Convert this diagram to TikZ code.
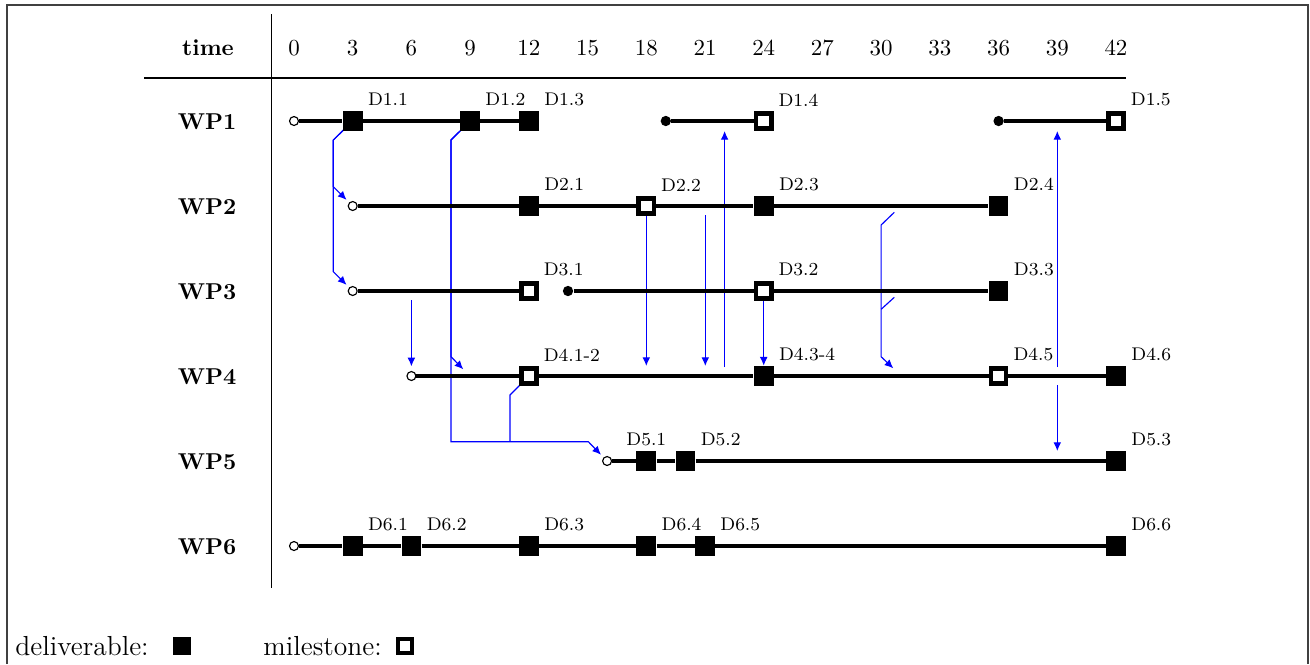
\documentclass[tikz,border=0pt]{standalone}
\usetikzlibrary{arrows.meta}
\pgfdeclarelayer{bg}
\pgfsetlayers{bg,main}
\begin{document}
\begin{tikzpicture}[x=0.4361pt,y=-0.4361pt,
  deliv/.style={fill=black,inner sep=0pt,minimum size=8.6pt},
  mile/.style={draw=black,fill=white,line width=2pt,inner sep=0pt,minimum size=6.6pt},
  ocirc/.style={circle,draw=black,fill=white,line width=0.5pt,inner sep=0pt,minimum size=3.9pt},
  fcirc/.style={circle,fill=black,inner sep=0pt,minimum size=4.5pt},
  wpline/.style={line width=1.6pt},
  lab/.style={anchor=south west,inner sep=2pt,font=\footnotesize},
  dep/.style={blue,line width=0.5pt,-{Latex[length=3.8pt,width=3.4pt]}},
  deplink/.style={blue,line width=0.5pt},
  wplab/.style={font=\bfseries,anchor=base},
  tick/.style={anchor=base},
  frame/.style={black!75,line width=0.6pt},
  legtext/.style={anchor=base west,inner sep=0pt,font=\fontsize{12}{14}\selectfont},
]
\useasboundingbox (0,0) rectangle (1310,664);
% frame
\coordinate (fa) at (7,664); \coordinate (fb) at (7,5);
\coordinate (fc) at (1308,5); \coordinate (fd) at (1308,664);
\draw[frame] (fa) -- (fb) -- (fc) -- (fd);
% header
\node[wplab] (time) at (208,55) {time};
\foreach \t in {0,3,...,42} {
  \node[tick] (n\t) at ({294+19.571*\t},55) {\t};
}
\coordinate (ha) at (144,78); \coordinate (hb) at (1126,78);
\draw[line width=0.5pt] (ha) -- (hb);
\coordinate (va) at (271.7,14); \coordinate (vb) at (271.7,588);
\draw[line width=0.5pt] (va) -- (vb);
% WP labels
\node[wplab] (wp1) at (207,129) {WP1};
\node[wplab] (wp2) at (207,214) {WP2};
\node[wplab] (wp3) at (207,299) {WP3};
\node[wplab] (wp4) at (207,384) {WP4};
\node[wplab] (wp5) at (207,469) {WP5};
\node[wplab] (wp6) at (207,554) {WP6};
% WP1
\node[ocirc] (o1) at (294,121) {};
\node[deliv] (d11) at (352.7,121) {};
\node[deliv] (d12) at (470.1,121) {};
\node[deliv] (d13) at (528.9,121) {};
\node[fcirc] (f1a) at (665.8,121) {};
\node[mile] (m14) at (763.7,121) {};
\node[fcirc] (f1b) at (998.6,121) {};
\node[mile] (m15) at (1116,121) {};
\draw[wpline] (o1) -- (d11) -- (d12) -- (d13);
\draw[wpline] (f1a) -- (m14);
\draw[wpline] (f1b) -- (m15);
% WP2
\node[ocirc] (o2) at (352.7,206) {};
\node[deliv] (d21) at (528.9,206) {};
\node[mile] (m22) at (646.3,206) {};
\node[deliv] (d23) at (763.7,206) {};
\node[deliv] (d24) at (998.6,206) {};
\draw[wpline] (o2) -- (d21) -- (m22) -- (d23) -- (d24);
% WP3
\node[ocirc] (o3) at (352.7,291) {};
\node[mile] (m31) at (528.9,291) {};
\node[fcirc] (f3) at (568.0,291) {};
\node[mile] (m32) at (763.7,291) {};
\node[deliv] (d33) at (998.6,291) {};
\draw[wpline] (o3) -- (m31);
\draw[wpline] (f3) -- (m32) -- (d33);
% WP4
\node[ocirc] (o4) at (411.4,376) {};
\node[mile] (m412) at (528.9,376) {};
\node[deliv] (d434) at (763.7,376) {};
\node[mile] (m45) at (998.6,376) {};
\node[deliv] (d46) at (1116,376) {};
\draw[wpline] (o4) -- (m412) -- (d434) -- (m45) -- (d46);
% WP5
\node[ocirc] (o5) at (607.1,461) {};
\node[deliv] (d51) at (646.3,461) {};
\node[deliv] (d52) at (685.4,461) {};
\node[deliv] (d53) at (1116,461) {};
\draw[wpline] (o5) -- (d51) -- (d52) -- (d53);
% WP6
\node[ocirc] (o6) at (294,546) {};
\node[deliv] (d61) at (352.7,546) {};
\node[deliv] (d62) at (411.4,546) {};
\node[deliv] (d63) at (528.9,546) {};
\node[deliv] (d64) at (646.3,546) {};
\node[deliv] (d65) at (705.0,546) {};
\node[deliv] (d66) at (1116,546) {};
\draw[wpline] (o6) -- (d61) -- (d62) -- (d63) -- (d64) -- (d65) -- (d66);
% labels
\node[lab] (l11) at (d11.north east) {D1.1};
\node[lab] (l12) at (d12.north east) {D1.2};
\node[lab] (l13) at (d13.north east) {D1.3};
\node[lab] (l14) at (m14.north east) {D1.4};
\node[lab] (l15) at (m15.north east) {D1.5};
\node[lab] (l21) at (d21.north east) {D2.1};
\node[lab] (l22) at (m22.north east) {D2.2};
\node[lab] (l23) at (d23.north east) {D2.3};
\node[lab] (l24) at (d24.north east) {D2.4};
\node[lab] (l31) at (m31.north east) {D3.1};
\node[lab] (l32) at (m32.north east) {D3.2};
\node[lab] (l33) at (d33.north east) {D3.3};
\node[lab] (l412) at (m412.north east) {D4.1-2};
\node[lab] (l434) at (d434.north east) {D4.3-4};
\node[lab] (l45) at (m45.north east) {D4.5};
\node[lab] (l46) at (d46.north east) {D4.6};
\node[lab,anchor=south] (l51) at (d51.north) {D5.1};
\node[lab] (l52) at (d52.north east) {D5.2};
\node[lab] (l53) at (d53.north east) {D5.3};
\node[lab] (l61) at (d61.north east) {D6.1};
\node[lab] (l62) at (d62.north east) {D6.2};
\node[lab] (l63) at (d63.north east) {D6.3};
\node[lab] (l64) at (d64.north east) {D6.4};
\node[lab] (l65) at (d65.north east) {D6.5};
\node[lab] (l66) at (d66.north east) {D6.6};
% dependency arrows
\coordinate (b1) at (333.3,140); \coordinate (b2) at (333.3,186.7); \coordinate (b3) at (333.3,271.7);
\coordinate (c1) at (451,140); \coordinate (c2) at (451,356.7); \coordinate (c3) at (463.3,369.3);
\coordinate (c4) at (451,441.7); \coordinate (c5) at (588.3,441.7);
\coordinate (e1) at (510,395); \coordinate (e2) at (510,441.7);
\coordinate (g1) at (411.4,300);
\coordinate (h1) at (646.3,366);
\coordinate (i1) at (705.3,215); \coordinate (i2) at (705.3,366);
\coordinate (j1) at (724.6,367); \coordinate (j2) at (724.6,131);
\coordinate (k1) at (894.3,212.3); \coordinate (k2) at (881.1,225);
\coordinate (k3) at (881.1,356.7); \coordinate (k4) at (893.3,368.3);
\coordinate (k5) at (894.3,297.3); \coordinate (k6) at (881.1,309.3);
\coordinate (p1) at (1057.3,367); \coordinate (p2) at (1057.3,131);
\coordinate (p3) at (1057.3,385); \coordinate (p4) at (1057.3,451);
\begin{pgfonlayer}{bg}
\draw[dep,shorten >=1.6pt] (d11.center) -- (b1) -- (b2) -- (o2);
\draw[dep,shorten >=1.6pt] (d11.center) -- (b1) -- (b3) -- (o3);
\draw[dep] (d12.center) -- (c1) -- (c2) -- (c3);
\draw[dep,shorten >=1.6pt] (d12.center) -- (c1) -- (c4) -- (c5) -- (o5);
\draw[deplink] (m412.center) -- (e1) -- (e2);
\draw[dep,shorten >=2pt] (g1) -- (o4);
\draw[dep] (m22) -- (h1);
\draw[dep] (i1) -- (i2);
\draw[dep] (j1) -- (j2);
\draw[dep] (m32) -- (d434);
\draw[dep] (k1) -- (k2) -- (k3) -- (k4);
\draw[deplink] (k5) -- (k6);
\draw[dep] (p1) -- (p2);
\draw[dep] (p3) -- (p4);
\end{pgfonlayer}
% legend
\node[legtext] (legd) at (15,655) {deliverable:};
\node[deliv,minimum size=8pt] (legds) at (182,646) {};
\node[legtext] (legm) at (263,655) {milestone:};
\node[mile,minimum size=6.2pt,line width=1.9pt] (legms) at (405,646) {};
\end{tikzpicture}
\end{document}
